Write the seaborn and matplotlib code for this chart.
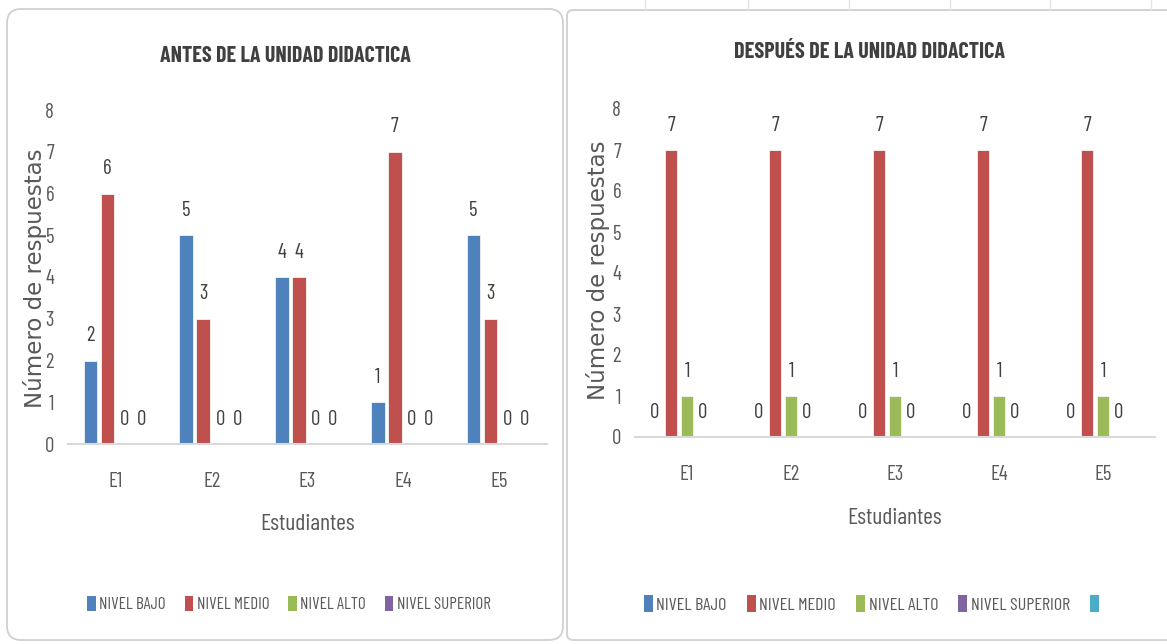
import matplotlib
matplotlib.use("Agg")
import matplotlib.pyplot as plt
import pandas as pd
import seaborn as sns
from matplotlib import font_manager as fm
from matplotlib.patches import FancyBboxPatch, Patch
from matplotlib.lines import Line2D
from matplotlib.transforms import IdentityTransform

# ---- data -------------------------------------------------------------
estudiantes = ["E1", "E2", "E3", "E4", "E5"]
niveles = ["NIVEL BAJO", "NIVEL MEDIO", "NIVEL ALTO", "NIVEL SUPERIOR"]

antes_bajo = [2, 5, 4, 1, 5]
antes_medio = [6, 3, 4, 7, 3]
antes_alto = [0, 0, 0, 0, 0]
antes_superior = [0, 0, 0, 0, 0]

despues_bajo = [0, 0, 0, 0, 0]
despues_medio = [7, 7, 7, 7, 7]
despues_alto = [1, 1, 1, 1, 1]
despues_superior = [0, 0, 0, 0, 0]

serie_vacia = " "  # empty fifth series of the second chart (legend swatch only)

colores = ["#4F81BD", "#C0504D", "#9BBB59", "#8064A2", "#4BACC6"]
titulo_antes = "ANTES DE LA UNIDAD DIDACTICA"
titulo_despues = "DESPUÉS DE LA UNIDAD DIDACTICA"
eje_x = "Estudiantes"
eje_y = "Número de respuestas"


def tabla(series):
    filas = []
    for nivel, valores in zip(niveles, series):
        for est, v in zip(estudiantes, valores):
            filas.append({"Estudiante": est, "Nivel": nivel, "Respuestas": v})
    return pd.DataFrame(filas)


df_antes = tabla([antes_bajo, antes_medio, antes_alto, antes_superior])
df_despues = tabla([despues_bajo, despues_medio, despues_alto, despues_superior])

# ---- fonts ------------------------------------------------------------
sns.set_theme(style="white")
nombres = {f.name for f in fm.fontManager.ttflist}


def elegir(preferidas):
    for p in preferidas:
        if p in nombres:
            return p
    return "DejaVu Sans"


COND = elegir(["Barlow Condensed", "Asap Condensed", "Archivo Narrow",
               "Roboto Condensed", "Liberation Sans Narrow", "Roboto"])
plt.rcParams["font.family"] = [COND, "DejaVu Sans"]

GRIS = "#595959"
OSCURO = "#404040"

W, H = 1167, 644
fig = plt.figure(figsize=(W / 100, H / 100), dpi=100)
fig.patch.set_facecolor("white")
renderer = fig.canvas.get_renderer()


def rect(x0, x1, y_top, y_base):
    return [x0 / W, 1 - y_base / H, (x1 - x0) / W, (y_base - y_top) / H]


def ajustar_ancho(texto, ancho):
    w = texto.get_window_extent(renderer).width
    texto.set_fontsize(texto.get_fontsize() * ancho / w)


ax1 = fig.add_axes(rect(68, 547, 110, 444))
ax2 = fig.add_axes(rect(635, 1155, 109, 437))


def dibujar(ax, df, orden_hue, ancho):
    sns.barplot(
        data=df, x="Estudiante", y="Respuestas", hue="Nivel",
        order=estudiantes, hue_order=orden_hue,
        palette=colores[:len(orden_hue)], saturation=1, width=ancho, gap=0.2,
        errorbar=None, legend=False, edgecolor="#f4f4f4", linewidth=0.6, ax=ax,
    )
    for cont in ax.containers:
        ax.bar_label(cont, fmt="%d", padding=11, fontsize=15, color=OSCURO, family=COND)
    ax.set_ylim(0, 8)
    ax.set_xlim(-0.5, len(estudiantes) - 0.5)
    ax.set_yticks(range(0, 9))
    for lado in ("top", "right", "left"):
        ax.spines[lado].set_visible(False)
    ax.spines["bottom"].set_color("#d9d9d9")
    ax.spines["bottom"].set_linewidth(1.5)
    ax.tick_params(axis="both", length=0, colors=GRIS, labelsize=15)
    ax.tick_params(axis="x", pad=20)
    ax.tick_params(axis="y", pad=10)
    ax.set_xlabel(eje_x, fontsize=17, color=GRIS)
    ax.set_ylabel(eje_y, fontsize=16.5, color=GRIS, family="DejaVu Sans")
    ax.xaxis.label.set_va("center")
    ax.yaxis.label.set_va("center")
    ax.set_facecolor("none")


dibujar(ax1, df_antes, niveles, 0.71)
dibujar(ax2, df_despues, niveles + [serie_vacia], 0.77)

ax1.xaxis.set_label_coords(0.5, -(525 - 444) / 334)
ax1.yaxis.set_label_coords((35 - 68) / 479, (444 - 278) / 334)
ax2.xaxis.set_label_coords(0.5, -(518 - 437) / 328)
ax2.yaxis.set_label_coords((598 - 635) / 520, (437 - 270) / 328)

# titles
t1 = fig.text(285 / W, 1 - 56 / H, titulo_antes, ha="center", va="center",
              fontsize=16, fontweight="bold", color=OSCURO)
t2 = fig.text(870 / W, 1 - 52 / H, titulo_despues, ha="center", va="center",
              fontsize=16, fontweight="bold", color=OSCURO)
ajustar_ancho(t1, 252)
ajustar_ancho(t2, 272)


# legends
def leyenda(etiquetas, n, cx, cy, ancho):
    manejadores = [Patch(facecolor=c, edgecolor="none") for c in colores[:n]]
    opciones = dict(loc="center", ncol=n, bbox_to_anchor=(cx / W, 1 - cy / H),
                    frameon=False, handlelength=0.5, handleheight=1.0,
                    handletextpad=0.2, columnspacing=1.1, borderpad=0.0,
                    labelcolor=GRIS)
    tam = 14
    leg = fig.legend(manejadores, etiquetas, prop={"size": tam, "family": COND}, **opciones)
    w = leg.get_window_extent(renderer).width
    leg.remove()
    tam = tam * ancho / w
    fig.legend(manejadores, etiquetas, prop={"size": tam, "family": COND}, **opciones)


leyenda(niveles, 4, 289, 604, 402)
leyenda(niveles + [""], 5, 873, 604, 459)

# chart frames
marco1 = FancyBboxPatch((7, H - 640), 556, 631, boxstyle="round,pad=0,rounding_size=14",
                        transform=IdentityTransform(), facecolor="none",
                        edgecolor="#d0d0d0", linewidth=1.3)
marco2 = FancyBboxPatch((567, H - 640), 620, 630, boxstyle="round,pad=0,rounding_size=6",
                        transform=IdentityTransform(), facecolor="none",
                        edgecolor="#d0d0d0", linewidth=1.3)
fig.add_artist(marco1)
fig.add_artist(marco2)
for xc in (645, 748, 849, 950, 1050, 1151):
    fig.add_artist(Line2D([xc, xc], [H - 10, H], transform=IdentityTransform(),
                          color="#e3e3e3", linewidth=1))

fig.savefig("out.png", dpi=100, facecolor="white")
